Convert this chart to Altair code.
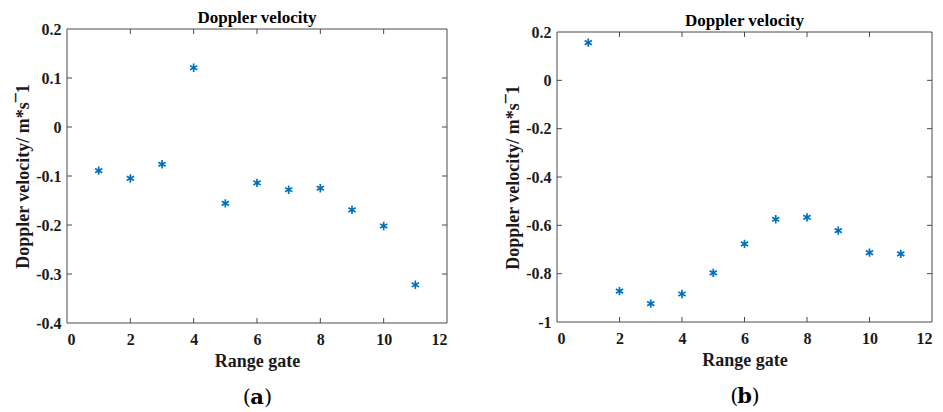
import altair as alt
import pandas as pd

# Range gates and measured Doppler velocities (m/s)
gates = [1, 2, 3, 4, 5, 6, 7, 8, 9, 10, 11]
velocity_a = [-0.089, -0.105, -0.076, 0.121, -0.156, -0.114, -0.128, -0.125, -0.169, -0.202, -0.322]
velocity_b = [0.156, -0.872, -0.924, -0.884, -0.797, -0.677, -0.575, -0.567, -0.622, -0.713, -0.718]

x_ticks = [0, 2, 4, 6, 8, 10, 12]
y_ticks_a = [-0.4, -0.3, -0.2, -0.1, 0.0, 0.1, 0.2]
y_ticks_b = [-1.0, -0.8, -0.6, -0.4, -0.2, 0.0, 0.2]

FONT = "Liberation Serif"
FRAME_COLOR = "#4a4a4a"
MARK_COLOR = "#0072BD"
ASTERISK = "M0,-1L0,1M-0.87,-0.5L0.87,0.5M-0.87,0.5L0.87,-0.5"
TICK = 5


def panel(values, y_ticks, y_domain, width, height, top, letter, title_dy):
    """One scatter panel; the plot box spans y = top .. height inside the group."""
    df = pd.DataFrame({"gate": gates, "v": values})
    xs = alt.Scale(domain=[0, 12], nice=False)
    ys = alt.Scale(domain=y_domain, nice=False, zero=False, range=[height, top])

    # Plain hyphen for negatives, integers without decimals
    ylabel = ("replace(datum.value == 0 ? '0' : (abs(datum.value - round(datum.value)) < 1e-9 "
              "? format(datum.value, 'd') : format(datum.value, '.1f')), '\u2212', '-')")

    points = alt.Chart(df).mark_point(
        shape=ASTERISK, filled=False, color=MARK_COLOR, strokeWidth=1.7, size=70, opacity=1
    ).encode(
        x=alt.X("gate:Q", scale=xs, title="Range gate",
                axis=alt.Axis(values=x_ticks, labelExpr="format(datum.value, 'd')", ticks=False,
                              domain=False, grid=False, labelPadding=8, titlePadding=5)),
        y=alt.Y("v:Q", scale=ys, title="Doppler velocity/ m*s\u00af1",
                axis=alt.Axis(values=y_ticks, labelExpr=ylabel, ticks=False,
                              domain=False, grid=False, labelPadding=6, titlePadding=3)),
    )

    # Box around the plot area
    line = dict(color=FRAME_COLOR, strokeWidth=1)
    frame = [
        alt.Chart().mark_rule(**line).encode(x=alt.value(0), x2=alt.value(width), y=alt.value(top)),
        alt.Chart().mark_rule(**line).encode(x=alt.value(0), x2=alt.value(width), y=alt.value(height)),
        alt.Chart().mark_rule(**line).encode(x=alt.value(0), y=alt.value(top), y2=alt.value(height)),
        alt.Chart().mark_rule(**line).encode(x=alt.value(width), y=alt.value(top), y2=alt.value(height)),
    ]

    # Inward ticks on all four sides
    xt = pd.DataFrame({"t": x_ticks[1:-1]})
    yt = pd.DataFrame({"t": y_ticks[1:-1]})
    ticks = [
        alt.Chart(xt).mark_rule(**line).encode(
            x=alt.X("t:Q", scale=xs), y=alt.value(height), y2=alt.value(height - TICK)),
        alt.Chart(xt).mark_rule(**line).encode(
            x=alt.X("t:Q", scale=xs), y=alt.value(top), y2=alt.value(top + TICK)),
        alt.Chart(yt).mark_rule(**line).encode(
            y=alt.Y("t:Q", scale=ys), x=alt.value(0), x2=alt.value(TICK)),
        alt.Chart(yt).mark_rule(**line).encode(
            y=alt.Y("t:Q", scale=ys), x=alt.value(width), x2=alt.value(width - TICK)),
    ]

    # Sub-figure caption "(a)" / "(b)" with a bold letter
    cap_df = pd.DataFrame({"s": ["x"]})
    cap_y = height + 75
    cap_font = "DejaVu Serif"
    caption = [
        alt.Chart(cap_df).mark_text(text="(", font=cap_font, fontSize=21, align="right",
                                    baseline="middle", color="#000").encode(
            x=alt.value(width / 2 - 6), y=alt.value(cap_y)),
        alt.Chart(cap_df).mark_text(text=letter, font=cap_font, fontSize=21, fontWeight="bold",
                                    align="center", baseline="middle", color="#000").encode(
            x=alt.value(width / 2), y=alt.value(cap_y)),
        alt.Chart(cap_df).mark_text(text=")", font=cap_font, fontSize=21, align="left",
                                    baseline="middle", color="#000").encode(
            x=alt.value(width / 2 + 7), y=alt.value(cap_y)),
    ]

    return alt.layer(points, *frame, *ticks, *caption).properties(
        width=width, height=height,
        title=alt.TitleParams("Doppler velocity", font=FONT, fontSize=17, fontWeight="bold",
                              color="#000", anchor="middle", offset=0, dy=title_dy),
    )


left = panel(velocity_a, y_ticks_a, [-0.4, 0.2], 380, 294, 0, "a", 6)
right = panel(velocity_b, y_ticks_b, [-1.0, 0.2], 375, 293, 3, "b", 6)

chart = alt.hconcat(left, right, spacing=56).properties(
    padding={"left": 14, "top": 8, "right": 2, "bottom": 0},
    background="white",
).configure_view(
    stroke="transparent"
).configure_axis(
    labelFont=FONT, labelFontSize=16, labelFontWeight="bold", labelColor="#1a1a1a",
    titleFont=FONT, titleFontSize=18, titleFontWeight="bold", titleColor="#1a1a1a",
)

chart.save("out.html", embed_options={"renderer": "svg", "actions": False})
